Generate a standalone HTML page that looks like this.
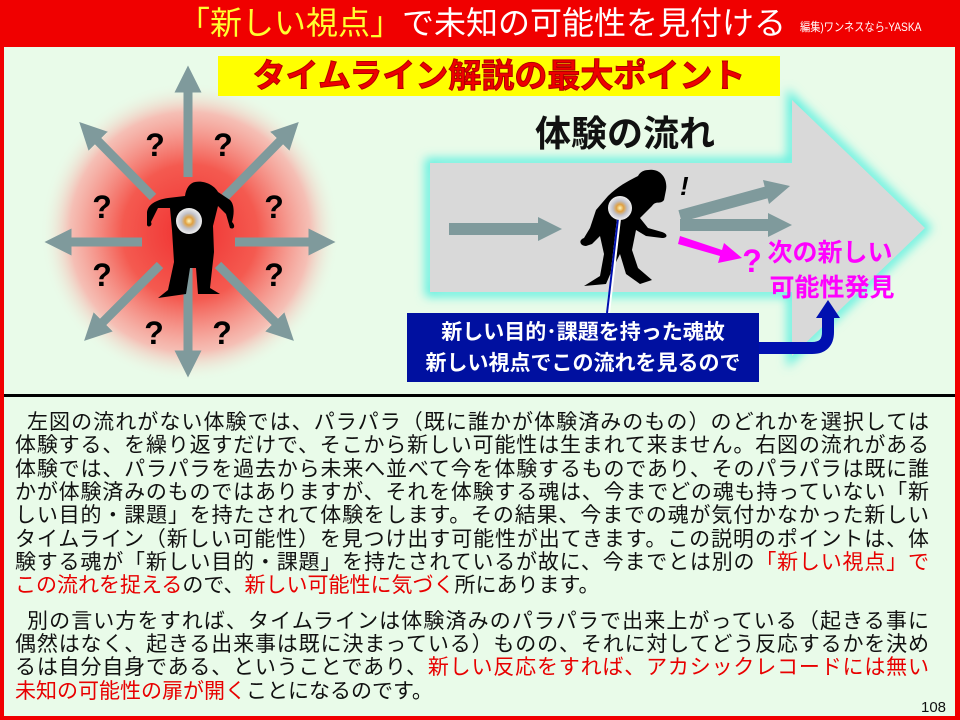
<!DOCTYPE html>
<html><head><meta charset="utf-8"><style>
html,body{margin:0;padding:0}
body{width:960px;height:720px;position:relative;overflow:hidden;background:#e9fbe9;font-family:"Liberation Sans","Noto Sans CJK JP",sans-serif}
.abs{position:absolute}
.hdr{left:0;top:0;width:960px;height:47px;background:#f00000}
.frameL{left:0;top:47px;width:4px;height:673px;background:#f00000}
.frameR{left:955px;top:47px;width:5px;height:673px;background:#f00000}
.frameB{left:0;top:716px;width:960px;height:4px;background:#f00000}
.sep{left:4px;top:394px;width:951px;height:3px;background:#000}
.ln{position:absolute;left:15px;width:914px;font-size:21px;line-height:23px;height:23px;text-align:justify;text-align-last:justify;color:#111;white-space:nowrap}
.r{color:#e80000}
</style></head><body>
<div class="abs hdr"></div>
<div class="abs" style="left:178px;top:3px;font-size:32px;line-height:40px;color:#fff;white-space:nowrap"><span style="color:#ffff30">「新しい視点」</span>で未知の可能性を見付ける</div>
<div class="abs" style="left:800px;top:18px;font-size:12px;color:#fff;white-space:nowrap;transform:scaleX(0.85);transform-origin:left">編集)ワンネスなら-YASKA</div>
<div class="abs frameL"></div><div class="abs frameR"></div><div class="abs frameB"></div>

<svg class="abs" style="left:0;top:47px" width="955" height="348" viewBox="0 47 955 348">
<defs>
<radialGradient id="rg" cx="190" cy="232" r="150" gradientUnits="userSpaceOnUse">
<stop offset="0" stop-color="#f03030"/><stop offset="0.45" stop-color="#f45a50"/><stop offset="0.8" stop-color="#f8b0a8" stop-opacity="0.8"/><stop offset="1" stop-color="#e9fbe9" stop-opacity="0"/></radialGradient>
<filter id="gl" x="-20%" y="-30%" width="140%" height="160%"><feGaussianBlur stdDeviation="5"/></filter>
<radialGradient id="soul"><stop offset="0" stop-color="#fff8c0"/><stop offset="0.3" stop-color="#e0a040"/><stop offset="0.6" stop-color="#c0c0c8"/><stop offset="1" stop-color="#f0f0f0"/></radialGradient>
<marker id="ah" markerWidth="3" markerHeight="3" refX="0.5" refY="1.5" orient="auto" markerUnits="strokeWidth"><path d="M0,0 L3,1.5 L0,3 Z" fill="#7f9a9c"/></marker>
</defs>
<circle cx="190" cy="232" r="150" fill="url(#rg)"/>
<g stroke="#7f9a9c" stroke-width="9" marker-end="url(#ah)">
<line x1="188" y1="177" x2="188" y2="88"/>
<line x1="188" y1="268" x2="188" y2="355"/>
<line x1="142" y1="242" x2="67" y2="242"/>
<line x1="235" y1="242" x2="313" y2="242"/>
<line x1="153" y1="197" x2="95" y2="138"/>
<line x1="225" y1="197" x2="283" y2="138"/>
<line x1="160" y1="265" x2="100" y2="325"/>
<line x1="218" y1="265" x2="278" y2="325"/>
</g>
<g font-size="32" font-weight="bold" fill="#000" text-anchor="middle" font-family="Liberation Sans">
<text x="155" y="156">?</text><text x="223" y="156">?</text>
<text x="102" y="218">?</text><text x="274" y="218">?</text>
<text x="102" y="286">?</text><text x="274" y="286">?</text>
<text x="154" y="344">?</text><text x="222" y="344">?</text>
</g>
<path fill="#000" d="M195,182 C205,180 215,186 218,192 L230,200 C235,205 234,215 232,222 C236,226 234,230 230,228 L226,214 L218,206 L213,226 L214,252 L210,288 L220,294 L198,294 L196,268 L190,268 L186,294 L158,298 L168,290 L174,262 L172,230 L170,208 L158,208 L151,222 C153,226 148,228 147,225 L147,212 C148,205 155,200 168,198 L185,196 C186,188 190,183 195,182 Z"/>
<circle cx="189" cy="221" r="13" fill="url(#soul)"/>

<path d="M430,163 L792,163 L792,100 L925,228 L792,356 L792,292 L430,292 Z" fill="none" stroke="#60f0e0" stroke-width="10" filter="url(#gl)"/>
<path d="M430,163 L792,163 L792,100 L925,228 L792,356 L792,292 L430,292 Z" fill="#d9d9d9"/>
<text x="625" y="146" font-size="36" font-weight="bold" text-anchor="middle" fill="#111" font-family="Liberation Sans,Noto Sans CJK JP">体験の流れ</text>
<g stroke="#7f9a9c" stroke-width="12">
<line x1="449" y1="229" x2="540" y2="229"/>
<line x1="680" y1="225" x2="770" y2="225"/>
<line x1="680" y1="216" x2="768" y2="192"/>
</g>
<g fill="#7f9a9c">
<path d="M538,217 L562,229 L538,241 Z"/>
<path d="M768,213 L792,225 L768,237 Z"/>
<path d="M763,180 L790,186 L769,204 Z"/>
</g>
<path d="M680,236 L722,250 L724,243 L742,258 L718,263 L720,256 L678,244 Z" fill="#ff00ff"/>
<text x="752" y="272" font-size="32" font-weight="bold" fill="#ff00ff" text-anchor="middle" font-family="Liberation Sans">?</text>
<g font-size="25" font-weight="bold" fill="#ff00ff" font-family="Liberation Sans,Noto Sans CJK JP" text-anchor="middle">
<text x="830" y="261">次の新しい</text><text x="832" y="296">可能性発見</text></g>
<path fill="#000" d="M648,170 C660,168 668,178 666,190 L664,200 C660,205 656,200 652,206 L640,218 L648,228 L662,232 C668,234 668,238 662,238 L646,236 L636,230 L632,250 L638,268 L652,280 L640,284 L626,274 L620,254 L612,270 L606,284 L584,286 L600,276 L604,254 L600,236 L592,244 L586,246 C580,246 578,240 584,238 L590,228 L596,210 L608,196 C618,186 630,180 638,176 C640,172 644,170 648,170 Z"/>
<text x="680" y="195" font-size="26" font-weight="bold" font-style="italic" fill="#000" font-family="Liberation Sans">!</text>
<line x1="620" y1="210" x2="608" y2="313" stroke="#fff" stroke-width="4"/>
<line x1="619" y1="210" x2="607" y2="313" stroke="#0010b0" stroke-width="2"/>
<circle cx="620" cy="208" r="12" fill="url(#soul)"/>
<path d="M755,348 L812,348 Q828,348 828,332 L828,318" fill="none" stroke="#0010b0" stroke-width="12"/>
<path d="M816,318 L840,318 L828,300 Z" fill="#0010b0"/>
</svg>

<div class="abs" style="left:218px;top:56px;width:562px;height:40px;background:#ffff00"></div>
<div class="abs" style="left:218px;top:56px;width:562px;height:40px;line-height:40px;text-align:center;font-size:33px;font-weight:bold;color:#ee0000;white-space:nowrap;-webkit-text-stroke:1px #b00000">タイムライン解説の最大ポイント</div>

<div class="abs" style="left:407px;top:313px;width:352px;height:69px;background:#0010a0;color:#fff;font-weight:bold;font-size:21px;line-height:31px;text-align:center;padding-top:4px;box-sizing:border-box;white-space:nowrap">新しい目的･課題を持った魂故<br>新しい視点でこの流れを見るので</div>

<div class="abs sep"></div>

<div class="ln" style="top:411px;left:27px;width:902px">左図の流れがない体験では、パラパラ（既に誰かが体験済みのもの）のどれかを選択しては</div>
<div class="ln" style="top:434px">体験する、を繰り返すだけで、そこから新しい可能性は生まれて来ません。右図の流れがある</div>
<div class="ln" style="top:458px">体験では、パラパラを過去から未来へ並べて今を体験するものであり、そのパラパラは既に誰</div>
<div class="ln" style="top:481px">かが体験済みのものではありますが、それを体験する魂は、今までどの魂も持っていない「新</div>
<div class="ln" style="top:504px">しい目的・課題」を持たされて体験をします。その結果、今までの魂が気付かなかった新しい</div>
<div class="ln" style="top:528px">タイムライン（新しい可能性）を見つけ出す可能性が出てきます。この説明のポイントは、体</div>
<div class="ln" style="top:551px">験する魂が「新しい目的・課題」を持たされているが故に、今までとは別の<span class="r">「新しい視点」で</span></div>
<div class="ln" style="top:574px;text-align-last:left;width:auto"><span class="r">この流れを捉える</span>ので、<span class="r">新しい可能性に気づく</span>所にあります。</div>
<div class="ln" style="top:610px;left:27px;width:902px">別の言い方をすれば、タイムラインは体験済みのパラパラで出来上がっている（起きる事に</div>
<div class="ln" style="top:633px">偶然はなく、起きる出来事は既に決まっている）ものの、それに対してどう反応するかを決め</div>
<div class="ln" style="top:656px">るは自分自身である、ということであり、<span class="r">新しい反応をすれば、アカシックレコードには無い</span></div>
<div class="ln" style="top:680px;text-align-last:left;width:auto"><span class="r">未知の可能性の扉が開く</span>ことになるのです。</div>
<div class="abs" style="left:921px;top:699px;font-size:15px;color:#111">108</div>
</body></html>
